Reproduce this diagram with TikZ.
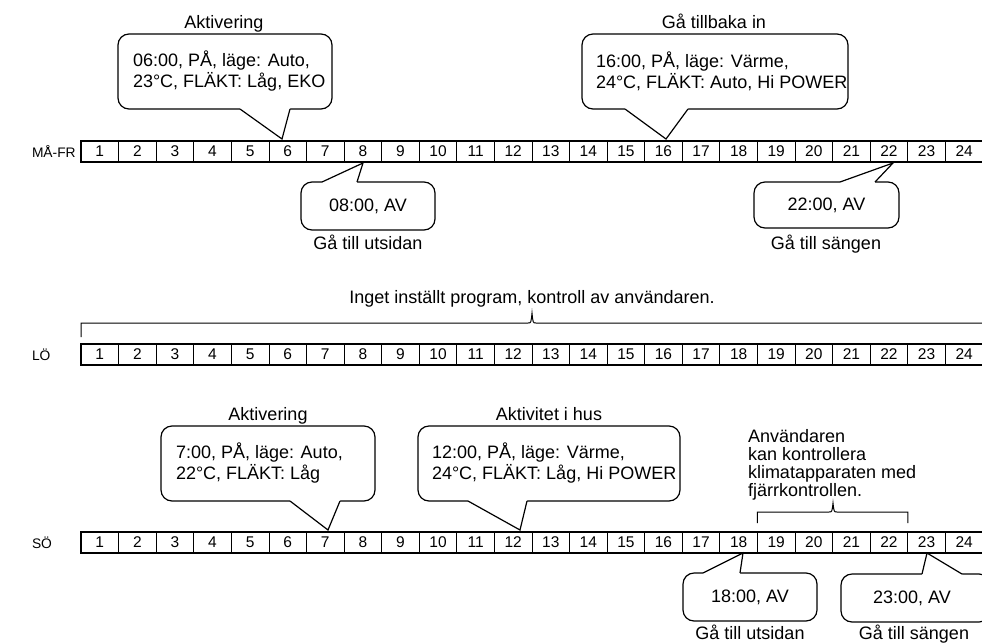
\documentclass[tikz,border=0pt]{standalone}
\usepackage{fontspec}
\setmainfont{Liberation Sans}
\usetikzlibrary{calc}
\begin{document}
\begin{tikzpicture}[x=1pt,y=-1pt,
  every node/.style={font=\fontsize{18}{21}\selectfont, inner sep=0, outer sep=0},
  cbox/.style={draw, line width=1.2, rounded corners=11},
  ctext/.style={anchor=west, align=left},
  cline/.style={line width=1.2, line join=miter},
  cover/.style={fill=white},
  cell/.style={draw, line width=0.8, minimum width=37.58, minimum height=21, font=\fontsize{15.5}{15.5}\selectfont},
  rowlab/.style={anchor=base west, font=\fontsize{13.8}{15}\selectfont},
  outer/.style={line width=1.8},
  brk/.style={line width=1.0},
  lab/.style={anchor=base}
]
\useasboundingbox (0,0) rectangle (982,643);
\clip (0,0) rectangle (982,643);

% ---------- rows ----------
\foreach \i in {1,...,24}{
  \node[cell] (mf\i) at ({81+(\i-0.5)*37.58},151.5) {\i};
  \node[cell] (lo\i) at ({81+(\i-0.5)*37.58},354.5) {\i};
  \node[cell] (so\i) at ({81+(\i-0.5)*37.58},542.5) {\i};
}
\draw[outer] (mf1.north west) rectangle (mf24.south east);
\draw[outer] (lo1.north west) rectangle (lo24.south east);
\draw[outer] (so1.north west) rectangle (so24.south east);
\node[rowlab] (lmf) at (32,157) {MÅ-FR};
\node[rowlab] (llo) at (32,360) {LÖ};
\node[rowlab] (lso) at (32,548) {SÖ};

% ---------- MÅ-FR callouts ----------
\node[lab] (h1) at (224,28) {Aktivering};
\node[cbox, minimum width=214, minimum height=75] (b1) at (225,71.5) {};
\node[ctext] (b1t) at (133,71.5) {06:00, PÅ, läge: Auto,\\23°C, FLÄKT: Låg, EKO};
\coordinate (b1a) at (240,109); \coordinate (b1b) at (290,109); \coordinate (t1) at (282,139);
\fill[cover] ($(b1a)+(0,-1.5)$) -- (b1a) -- (t1) -- (b1b) -- ($(b1b)+(0,-1.5)$) -- cycle;
\draw[cline] (b1a) -- (t1) -- (b1b);

\node[lab] (h2) at (714,28) {Gå tillbaka in};
\node[cbox, minimum width=266, minimum height=75] (b2) at (715,71.5) {};
\node[ctext] (b2t) at (596,71.5) {16:00, PÅ, läge: Värme,\\24°C, FLÄKT: Auto, Hi POWER};
\coordinate (b2a) at (625,109); \coordinate (b2b) at (688,109); \coordinate (t2) at (666,139);
\fill[cover] ($(b2a)+(0,-1.5)$) -- (b2a) -- (t2) -- (b2b) -- ($(b2b)+(0,-1.5)$) -- cycle;
\draw[cline] (b2a) -- (t2) -- (b2b);

\node[cbox, minimum width=134, minimum height=48] (b3) at (368,206) {08:00, AV};
\coordinate (b3a) at (322,182); \coordinate (b3b) at (357,182); \coordinate (t3) at (363,163);
\fill[cover] ($(b3a)+(0,1.5)$) -- (b3a) -- (t3) -- (b3b) -- ($(b3b)+(0,1.5)$) -- cycle;
\draw[cline] (b3a) -- (t3) -- (b3b);
\node[lab] (u3) at (368,249) {Gå till utsidan};

\node[cbox, minimum width=145, minimum height=46] (b4) at (826.5,205) {22:00, AV};
\coordinate (b4a) at (840,182); \coordinate (b4b) at (875,182); \coordinate (t4) at (893,163);
\fill[cover] ($(b4a)+(0,1.5)$) -- (b4a) -- (t4) -- (b4b) -- ($(b4b)+(0,1.5)$) -- cycle;
\draw[cline] (b4a) -- (t4) -- (b4b);
\node[lab] (u4) at (826,249) {Gå till sängen};

% ---------- LÖ ----------
\node[lab] (tlo) at (532,303) {Inget inställt program, kontroll av användaren.};
\draw[brk] (lo1.north west) ++(0,-7) -- (81,323) -- (528,323)
  .. controls (531,323) .. (532,313) .. controls (533,323) .. (536,323) -- (983,323) -- (983,337);

% ---------- SÖ callouts ----------
\node[lab] (h5) at (268,420) {Aktivering};
\node[cbox, minimum width=214, minimum height=75] (b5) at (268,463.5) {};
\node[ctext] (b5t) at (176,463.5) {7:00, PÅ, läge: Auto,\\22°C, FLÄKT: Låg};
\coordinate (b5a) at (290,501); \coordinate (b5b) at (340,501); \coordinate (t5) at (328,530);
\fill[cover] ($(b5a)+(0,-1.5)$) -- (b5a) -- (t5) -- (b5b) -- ($(b5b)+(0,-1.5)$) -- cycle;
\draw[cline] (b5a) -- (t5) -- (b5b);

\node[lab] (h6) at (549,420) {Aktivitet i hus};
\node[cbox, minimum width=262, minimum height=75] (b6) at (549,463.5) {};
\node[ctext] (b6t) at (432,463.5) {12:00, PÅ, läge: Värme,\\24°C, FLÄKT: Låg, Hi POWER};
\coordinate (b6a) at (468,501); \coordinate (b6b) at (527,501); \coordinate (t6) at (520,530);
\fill[cover] ($(b6a)+(0,-1.5)$) -- (b6a) -- (t6) -- (b6b) -- ($(b6b)+(0,-1.5)$) -- cycle;
\draw[cline] (b6a) -- (t6) -- (b6b);

\node[anchor=north west, align=left, font=\fontsize{18}{18.3}\selectfont] (usr) at (748,429)
  {Användaren\\kan kontrollera\\klimatapparaten med\\fjärrkontrollen.};
\draw[brk] (so19.north west) ++(0,-9) -- (757.4,512) -- (829,512)
  .. controls (832,512) .. (833,503) .. controls (834,512) .. (837,512) -- (907.8,512) -- (907.8,523);

\node[cbox, minimum width=134, minimum height=48] (b7) at (750,597) {18:00, AV};
\coordinate (b7a) at (703,573); \coordinate (b7b) at (740,573); \coordinate (t7) at (743,553);
\fill[cover] ($(b7a)+(0,1.5)$) -- (b7a) -- (t7) -- (b7b) -- ($(b7b)+(0,1.5)$) -- cycle;
\draw[cline] (b7a) -- (t7) -- (b7b);
\node[lab] (u7) at (750,639) {Gå till utsidan};

\node[cbox, minimum width=149, minimum height=48] (b8) at (915.5,598) {};
\node (b8t) at (912,598) {23:00, AV};
\coordinate (b8a) at (922,574); \coordinate (b8b) at (962,574); \coordinate (t8) at (927,553);
\fill[cover] ($(b8a)+(0,1.5)$) -- (b8a) -- (t8) -- (b8b) -- ($(b8b)+(0,1.5)$) -- cycle;
\draw[cline] (b8a) -- (t8) -- (b8b);
\node[lab] (u8) at (914,639) {Gå till sängen};
\end{tikzpicture}
\end{document}
